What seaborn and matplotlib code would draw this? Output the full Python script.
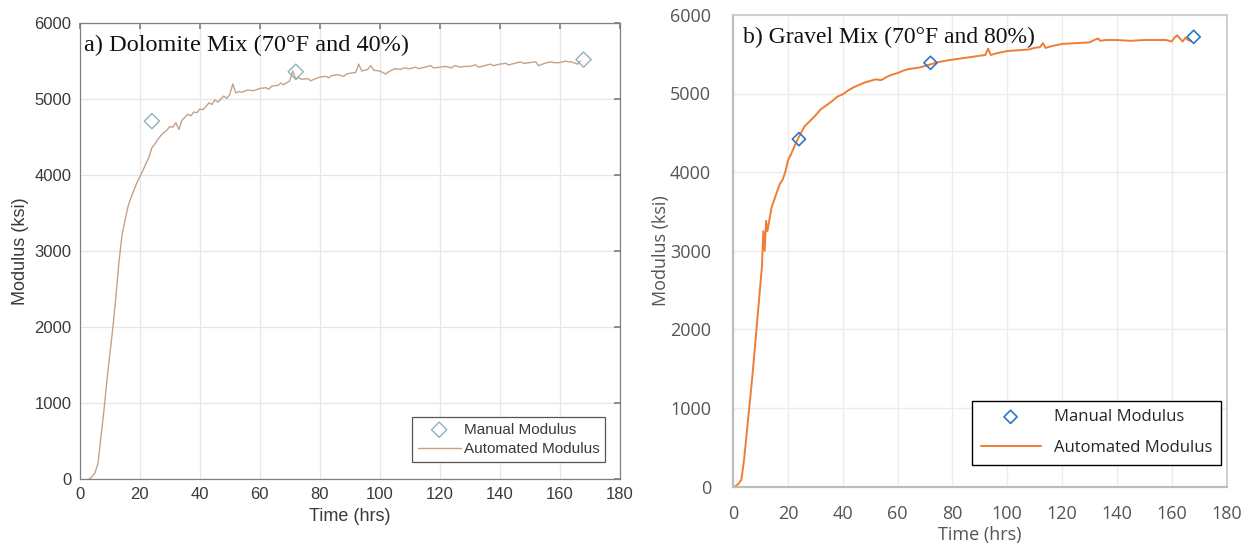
import numpy as np
import pandas as pd
import matplotlib
matplotlib.use("Agg")
import matplotlib.pyplot as plt
import seaborn as sns

# a) Dolomite mix, automated modulus (read off the curve)
dolo_t = [3, 4, 5, 6, 7, 8, 9, 10, 11, 12, 13, 14, 15, 16, 17, 18, 19, 20,
          21, 22, 23, 24, 25, 26, 27, 28, 29, 30, 31, 32, 33, 34, 35, 36, 37,
          38, 39, 40, 41, 42, 43, 44, 45, 46, 47, 48, 49, 50, 51, 52, 53, 54,
          56, 58, 60, 62, 63, 64, 66, 67, 68, 70, 71, 72, 73, 74, 76, 77, 78,
          80, 82, 83, 84, 86, 88, 89, 90, 92, 93, 94, 96, 97, 98, 100, 102,
          103, 105, 107, 108, 110, 112, 113, 115, 117, 118, 120, 122, 124,
          125, 127, 128, 130, 132, 133, 135, 137, 138, 140, 142, 143, 145,
          147, 148, 150, 152, 153, 155, 157, 158, 160, 162, 163, 164, 166,
          167]
dolo_E = [0, 30, 80, 200, 550, 900, 1300, 1650, 2000, 2400, 2850, 3200, 3400,
          3580, 3700, 3800, 3900, 3980, 4060, 4150, 4230, 4360, 4410, 4470,
          4520, 4560, 4590, 4640, 4630, 4690, 4600, 4720, 4760, 4800, 4780,
          4830, 4820, 4870, 4860, 4900, 4950, 4930, 4990, 4960, 5000, 5040,
          5010, 5060, 5200, 5080, 5100, 5090, 5120, 5110, 5140, 5150, 5130,
          5170, 5180, 5210, 5190, 5240, 5370, 5260, 5280, 5260, 5270, 5240,
          5260, 5290, 5300, 5280, 5310, 5320, 5300, 5330, 5340, 5350, 5460,
          5370, 5390, 5440, 5380, 5370, 5330, 5360, 5400, 5390, 5410, 5400,
          5420, 5400, 5420, 5440, 5410, 5420, 5430, 5410, 5440, 5420, 5430,
          5430, 5450, 5420, 5440, 5460, 5440, 5460, 5470, 5450, 5470, 5490,
          5470, 5480, 5490, 5440, 5470, 5490, 5480, 5480, 5500, 5490, 5490,
          5460, 5500]
dolo_manual_t = [24, 72, 168]
dolo_manual_E = [4710, 5360, 5520]

# b) Gravel mix, automated modulus
grav_t = [0, 1, 2, 3, 4, 5, 6, 7, 8, 9, 10, 10.5, 11, 11.5, 12, 12.5, 13, 14,
          15, 16, 17, 18, 19, 20, 21, 22, 23, 24, 26, 28, 30, 32, 34, 36, 38,
          40, 42, 44, 46, 48, 50, 52, 54, 56, 58, 60, 62, 64, 66, 68, 70, 72,
          75, 78, 80, 84, 88, 90, 92, 93, 94, 96, 100, 104, 108, 110, 112,
          113, 114, 116, 120, 125, 130, 133, 134, 136, 140, 145, 150, 155,
          158, 160, 161, 162, 163, 164, 165, 166, 167]
grav_E = [0, 10, 40, 90, 350, 700, 1050, 1400, 1800, 2200, 2600, 2800, 3250,
          3000, 3380, 3250, 3350, 3550, 3650, 3750, 3850, 3900, 4000, 4150,
          4220, 4300, 4380, 4450, 4580, 4650, 4720, 4800, 4850, 4900, 4960,
          4990, 5040, 5080, 5110, 5140, 5160, 5180, 5170, 5210, 5240, 5260,
          5290, 5310, 5320, 5330, 5350, 5370, 5400, 5420, 5430, 5450, 5470,
          5480, 5490, 5570, 5490, 5510, 5540, 5550, 5560, 5580, 5590, 5640,
          5580, 5600, 5630, 5640, 5650, 5700, 5670, 5680, 5680, 5670, 5680,
          5680, 5680, 5660, 5710, 5740, 5700, 5660, 5710, 5680, 5670]
grav_manual_t = [24, 72, 168]
grav_manual_E = [4420, 5390, 5720]

dolo = pd.DataFrame({"t": dolo_t, "E": dolo_E})
dolo_m = pd.DataFrame({"t": dolo_manual_t, "E": dolo_manual_E})
grav = pd.DataFrame({"t": grav_t, "E": grav_E})
grav_m = pd.DataFrame({"t": grav_manual_t, "E": grav_manual_E})

sns.set_theme(style="whitegrid")

fig = plt.figure(figsize=(12.49, 5.5), dpi=100)
ax1 = fig.add_axes([0.064, 0.129, 0.432, 0.829])
ax2 = fig.add_axes([0.587, 0.115, 0.395, 0.858])

# ---- left panel (MATLAB look) ----
sans = ["Liberation Sans", "DejaVu Sans"]
sns.scatterplot(data=dolo_m, x="t", y="E", ax=ax1, marker="D", s=60,
                facecolors="none", edgecolor="#8fb2c0", linewidth=1.0,
                label="Manual Modulus", zorder=3)
sns.lineplot(data=dolo, x="t", y="E", ax=ax1, color="#c4a28a", lw=1.0,
             label="Automated Modulus")
ax1.set_xlim(0, 180)
ax1.set_ylim(0, 6000)
ax1.set_xticks(np.arange(0, 181, 20))
ax1.set_yticks(np.arange(0, 6001, 1000))
ax1.grid(True, color="#e6e6e6", lw=0.9)
for s in ax1.spines.values():
    s.set_visible(True)
    s.set_color("#808080")
    s.set_linewidth(0.9)
ax1.tick_params(direction="in", length=4, color="#808080", top=True,
                right=True, labelsize=12, labelcolor="#3a3a3a", pad=6)
for lab in ax1.get_xticklabels() + ax1.get_yticklabels():
    lab.set_family(sans)
ax1.set_xlabel("Time (hrs)", family=sans, fontsize=13, color="#3a3a3a",
               labelpad=4)
ax1.set_ylabel("Modulus (ksi)", family=sans, fontsize=13, color="#3a3a3a",
               labelpad=4)
ax1.text(0.008, 0.975, "a) Dolomite Mix (70°F and 40%)", transform=ax1.transAxes,
         family=["Liberation Serif", "DejaVu Serif"], fontsize=17.5, va="top",
         ha="left", color="#111111")
leg1 = ax1.legend(loc="lower right", bbox_to_anchor=(0.974, 0.037),
                  prop={"family": sans, "size": 11}, fancybox=False,
                  edgecolor="#555555", framealpha=1, borderpad=0.4,
                  labelspacing=0.35, handlelength=2.8, handletextpad=0.2,
                  borderaxespad=0)
leg1.get_frame().set_linewidth(0.9)
for t in leg1.get_texts():
    t.set_color("#3a3a3a")

# ---- right panel (Excel look) ----
calib = ["Open Sans", "DejaVu Sans"]
sns.scatterplot(data=grav_m, x="t", y="E", ax=ax2, marker="D", s=45,
                facecolors="none", edgecolor="#2e75c6", linewidth=1.2,
                label="Manual Modulus", zorder=3)
sns.lineplot(data=grav, x="t", y="E", ax=ax2, color="#ef7d32", lw=1.4,
             label="Automated Modulus")
ax2.set_xlim(0, 180)
ax2.set_ylim(0, 6000)
ax2.set_xticks(np.arange(0, 181, 20))
ax2.set_yticks(np.arange(0, 6001, 1000))
ax2.grid(True, color="#ececec", lw=1.0)
for s in ax2.spines.values():
    s.set_visible(True)
    s.set_color("#c8c8c8")
    s.set_linewidth(1.2)
ax2.spines["left"].set_color("#bdbdbd")
ax2.spines["bottom"].set_color("#bdbdbd")
ax2.spines["left"].set_linewidth(1.6)
ax2.spines["bottom"].set_linewidth(1.6)
ax2.tick_params(direction="in", length=4, color="#bdbdbd", labelsize=13,
                labelcolor="#555555")
ax2.tick_params(axis="x", pad=13)
ax2.tick_params(axis="y", pad=16)
for lab in ax2.get_xticklabels() + ax2.get_yticklabels():
    lab.set_family(calib)
ax2.set_xlabel("Time (hrs)", family=calib, fontsize=13, color="#555555",
               labelpad=2)
ax2.set_ylabel("Modulus (ksi)", family=calib, fontsize=13, color="#555555",
               labelpad=0)
ax2.text(0.02, 0.975, "b) Gravel Mix (70°F and 80%)", transform=ax2.transAxes,
         family=["Liberation Serif", "DejaVu Serif"], fontsize=17, va="top",
         ha="left", color="#111111")
leg2 = ax2.legend(loc="lower right", bbox_to_anchor=(0.988, 0.047),
                  prop={"family": calib, "size": 12}, fancybox=False,
                  edgecolor="#000000", framealpha=1, borderpad=0.5,
                  labelspacing=0.9, handlelength=3.6, handletextpad=0.8,
                  borderaxespad=0)
leg2.get_frame().set_linewidth(1.0)

fig.savefig("out.png", dpi=100)
